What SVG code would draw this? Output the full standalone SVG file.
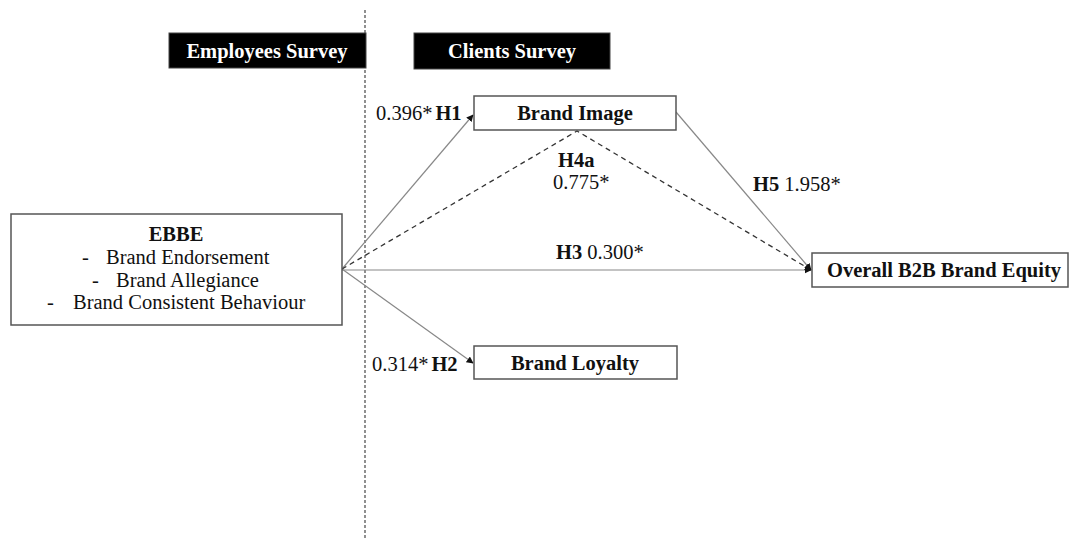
<svg xmlns="http://www.w3.org/2000/svg" width="1070" height="540" viewBox="0 0 1070 540">
  <style>
    text { font-family: "Liberation Serif", "Times New Roman", serif; font-size: 20.5px; fill: #111; }
    .b { font-weight: bold; }
    .hdr { fill: #fff; font-weight: bold; text-anchor: middle; }
    .box { fill: #fff; stroke: #555; stroke-width: 1.5; }
    .hbox { fill: #000; stroke: #444; stroke-width: 1; }
    .path { stroke: #888; stroke-width: 1.2; fill: none; }
    .dash { stroke: #333; stroke-width: 1.3; fill: none; stroke-dasharray: 5 4; }
    .mid { text-anchor: middle; }
  </style>
  <defs>
    <marker id="arrow" viewBox="0 0 10 10" refX="9" refY="5" markerWidth="7" markerHeight="7" markerUnits="userSpaceOnUse" orient="auto">
      <path d="M0,0 L10,5 L0,10 z" fill="#111"/>
    </marker>
  </defs>

  <!-- survey divider -->
  <line x1="365" y1="10" x2="365" y2="540" stroke="#555" stroke-width="1.3" stroke-dasharray="3 2"/>

  <!-- survey headers -->
  <g id="employees-survey">
    <rect class="hbox" x="169" y="33" width="197" height="35"/>
    <text class="hdr" x="267" y="58">Employees Survey</text>
  </g>
  <g id="clients-survey">
    <rect class="hbox" x="414" y="33" width="196" height="36"/>
    <text class="hdr" x="512" y="58">Clients Survey</text>
  </g>

  <!-- connectors -->
  <g id="connectors">
    <line class="path" x1="342" y1="269" x2="473" y2="115" marker-end="url(#arrow)"/>
    <line class="path" x1="342" y1="269" x2="473" y2="363" marker-end="url(#arrow)"/>
    <line class="path" x1="342" y1="270" x2="811" y2="270" marker-end="url(#arrow)"/>
    <line class="path" x1="676" y1="112" x2="811" y2="270" marker-end="url(#arrow)"/>
    <polyline class="dash" points="342,269 577,131 811,270" marker-end="url(#arrow)"/>
  </g>

  <!-- nodes -->
  <g id="ebbe">
    <rect class="box" x="11" y="214" width="331" height="111"/>
    <text class="b mid" x="176" y="241">EBBE</text>
    <text x="82" y="264">-</text>
    <text x="106" y="264">Brand Endorsement</text>
    <text x="92" y="287">-</text>
    <text x="116" y="287">Brand Allegiance</text>
    <text x="47" y="309">-</text>
    <text x="73" y="309">Brand Consistent Behaviour</text>
  </g>
  <g id="brand-image">
    <rect class="box" x="474" y="96" width="202" height="34"/>
    <text class="b mid" x="575" y="120">Brand Image</text>
  </g>
  <g id="brand-loyalty">
    <rect class="box" x="474" y="346" width="203" height="33"/>
    <text class="b mid" x="575" y="370">Brand Loyalty</text>
  </g>
  <g id="b2b-equity">
    <rect class="box" x="812" y="253" width="256" height="34"/>
    <text class="b mid" x="944" y="277">Overall B2B Brand Equity</text>
  </g>

  <!-- path labels -->
  <g id="labels">
    <text x="376" y="120">0.396*<tspan class="b" dx="3">H1</tspan></text>
    <text x="372" y="371">0.314*<tspan class="b" dx="3">H2</tspan></text>
    <text x="556" y="259"><tspan class="b">H3</tspan> 0.300*</text>
    <text class="b" x="558" y="167">H4a</text>
    <text x="553" y="189">0.775*</text>
    <text x="753" y="191"><tspan class="b">H5</tspan> 1.958*</text>
  </g>
</svg>
